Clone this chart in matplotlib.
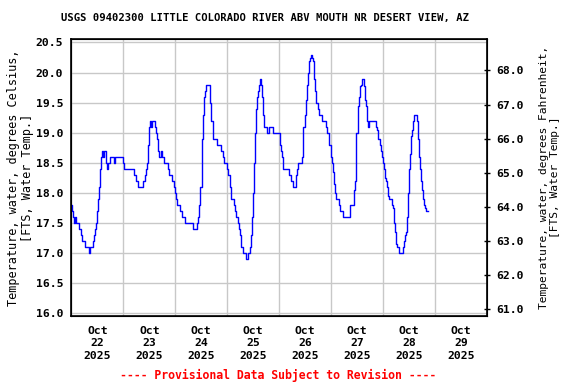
import matplotlib
matplotlib.use("Agg")
import matplotlib.pyplot as plt
import matplotlib.dates as mdates
import pandas as pd

""" data: hours since 2025-10-22 00:00 and water temperature (deg C) """
start = "2025-10-22 00:00"
hours = [0, 0.3, 0.8, 1.2, 1.5, 2.0, 3.1, 3.5, 4.2, 5.1, 6.3, 7.8, 8.2, 8.5, 9.5, 10.0, 10.5, 10.9,
         11.4, 11.8, 12.5, 12.9, 13.4, 13.8, 14.3, 14.8, 15.2, 15.7, 16.2, 16.6, 17.1, 17.7, 18.8,
         19.7, 20.2, 23.5, 23.8, 24.5, 28.2, 28.8, 29.7, 30.9, 32.8, 33.1, 33.8, 34.3, 34.9, 35.4,
         35.8, 36.5, 36.9, 37.4, 38.5, 39.1, 39.5, 40.2, 40.6, 41.1, 41.5, 42.0, 42.6, 44.2, 44.6,
         45.1, 46.0, 46.6, 47.2, 47.8, 48.3, 48.8, 49.4, 50.0, 50.8, 51.2, 51.8, 52.5, 55.8, 56.2,
         57.7, 58.0, 58.6, 58.9, 59.5, 60.2, 60.5, 60.9, 61.4, 61.8, 62.3, 63.5, 64.0, 64.6, 65.4,
         66.9, 67.4, 68.8, 69.2, 70.0, 70.5, 71.5, 72.0, 72.5, 73.1, 73.5, 74.6, 75.1, 75.7, 76.2,
         76.8, 77.2, 77.7, 78.2, 79.2, 80.5, 80.8, 81.7, 82.3, 82.8, 83.2, 83.7, 84.2, 84.6, 85.2,
         85.7, 86.2, 86.6, 87.1, 87.5, 88.0, 88.5, 88.9, 89.7, 90.2, 91.1, 91.5, 92.8, 93.2, 96.2,
         96.5, 96.9, 97.4, 97.8, 100.0, 100.5, 101.4, 102.3, 103.4, 103.8, 104.3, 104.9, 106.3,
         106.9, 107.2, 107.8, 108.3, 108.8, 109.2, 109.7, 110.2, 110.6, 111.1, 111.5, 112.0, 112.5,
         112.9, 113.8, 114.3, 115.4, 115.8, 116.9, 117.4, 118.2, 118.8, 119.2, 119.7, 120.2, 120.8,
         121.2, 121.7, 122.2, 123.1, 123.5, 124.0, 124.8, 125.4, 127.8, 128.5, 128.9, 130.0, 130.5,
         130.9, 131.4, 131.7, 132.3, 132.8, 133.2, 133.7, 134.2, 134.6, 135.1, 135.5, 136.0, 136.5,
         136.9, 137.4, 140.2, 140.6, 141.1, 141.5, 142.0, 142.5, 142.9, 143.4, 143.8, 144.3, 144.8,
         145.2, 145.7, 146.2, 146.6, 147.5, 148.0, 148.5, 148.9, 149.4, 149.8, 150.3, 150.8, 151.2,
         151.5, 153.1, 153.4, 153.8, 154.3, 154.8, 155.1, 155.5, 156.0, 156.5, 156.9, 157.4, 157.8,
         158.3, 159.2, 159.7, 160.2, 160.6, 161.1, 161.5, 162.0, 162.5, 162.9, 163.4, 163.8, 164.6]
temps = [17.8, 17.7, 17.6, 17.5, 17.6, 17.5, 17.5, 17.4, 17.3, 17.2, 17.1, 17.1, 17.0, 17.1, 17.1,
         17.2, 17.3, 17.4, 17.5, 17.7, 17.9, 18.1, 18.4, 18.6, 18.7, 18.6, 18.7, 18.7, 18.5, 18.4,
         18.5, 18.6, 18.6, 18.5, 18.6, 18.6, 18.5, 18.4, 18.4, 18.3, 18.2, 18.1, 18.1, 18.2, 18.3,
         18.4, 18.5, 18.8, 19.1, 19.2, 19.1, 19.2, 19.1, 19.0, 18.9, 18.7, 18.6, 18.6, 18.7, 18.6,
         18.5, 18.5, 18.4, 18.3, 18.3, 18.2, 18.1, 18.0, 17.9, 17.8, 17.8, 17.7, 17.7, 17.6, 17.6,
         17.5, 17.5, 17.4, 17.4, 17.5, 17.6, 17.8, 18.1, 18.5, 18.9, 19.3, 19.6, 19.7, 19.8, 19.8,
         19.5, 19.2, 18.9, 18.9, 18.8, 18.8, 18.7, 18.6, 18.5, 18.5, 18.4, 18.3, 18.1, 17.9, 17.9,
         17.8, 17.7, 17.6, 17.5, 17.4, 17.3, 17.1, 17.0, 17.0, 16.9, 17.0, 17.1, 17.3, 17.6, 18.0,
         18.5, 19.0, 19.4, 19.6, 19.7, 19.8, 19.9, 19.8, 19.6, 19.3, 19.1, 19.1, 19.0, 19.0, 19.1,
         19.1, 19.0, 19.0, 18.8, 18.7, 18.6, 18.4, 18.4, 18.3, 18.2, 18.1, 18.1, 18.3, 18.4, 18.5,
         18.6, 18.8, 19.1, 19.3, 19.55, 19.8, 20.0, 20.2, 20.25, 20.3, 20.25, 20.2, 19.9, 19.7,
         19.5, 19.4, 19.3, 19.3, 19.2, 19.2, 19.1, 19.0, 18.9, 18.8, 18.6, 18.5, 18.35, 18.15, 18.0,
         17.9, 17.9, 17.8, 17.7, 17.7, 17.6, 17.6, 17.7, 17.8, 17.8, 18.05, 18.2, 18.6, 19.0, 19.45,
         19.6, 19.77, 19.8, 19.9, 19.9, 19.77, 19.55, 19.45, 19.2, 19.1, 19.2, 19.2, 19.1, 19.05,
         18.9, 18.9, 18.8, 18.7, 18.6, 18.5, 18.4, 18.25, 18.2, 18.1, 17.95, 17.9, 17.9, 17.8,
         17.75, 17.5, 17.35, 17.15, 17.1, 17.1, 17.06, 17.0, 17.0, 17.1, 17.2, 17.3, 17.35, 17.6,
         18.0, 18.4, 18.65, 18.95, 19.05, 19.2, 19.3, 19.3, 19.2, 18.9, 18.6, 18.4, 18.2, 18.05,
         17.9, 17.8, 17.75, 17.7, 17.7]

celsius_ticks = [16.0, 16.5, 17.0, 17.5, 18.0, 18.5, 19.0, 19.5, 20.0, 20.5]
fahrenheit_ticks = [61.0, 62.0, 63.0, 64.0, 65.0, 66.0, 67.0, 68.0]

title = "USGS 09402300 LITTLE COLORADO RIVER ABV MOUTH NR DESERT VIEW, AZ"
left_label = "Temperature, water, degrees Celsius,\n[FTS, Water Temp.]"
right_label = "Temperature, water, degrees Fahrenheit,\n[FTS, Water Temp.]"
footer = "---- Provisional Data Subject to Revision ----"

plt.rcParams["font.family"] = "DejaVu Sans Mono"
plt.rcParams["font.weight"] = "bold"

times = pd.Timestamp(start) + pd.to_timedelta(hours, unit="h")

fig = plt.figure(figsize=(5.76, 3.84), dpi=100)
ax = fig.add_axes([0.124, 0.177, 0.7215, 0.721])
ax.plot(times, temps, color="#0000ff", lw=1.0, drawstyle="steps-post", zorder=3)

ax.set_xlim(pd.Timestamp("2025-10-22"), pd.Timestamp("2025-10-30"))
ax.set_ylim(15.955, 20.555)
ax.set_yticks(celsius_ticks)
ax.set_yticklabels([f"{v:.1f}" for v in celsius_ticks], fontsize=8.2)
ax.tick_params(axis="y", length=0, pad=6)

# gridlines at midnight, labels at noon
ax.xaxis.set_major_locator(mdates.DayLocator())
ax.xaxis.set_major_formatter(plt.NullFormatter())
ax.xaxis.set_minor_locator(mdates.HourLocator(byhour=[12]))
ax.xaxis.set_minor_formatter(mdates.DateFormatter("%b\n%d\n%Y"))
ax.tick_params(axis="x", which="both", length=0)
ax.tick_params(axis="x", which="minor", labelsize=8.2, pad=7)
for lab in ax.xaxis.get_minorticklabels():
    lab.set_linespacing(1.3)
ax.grid(True, which="major", color="#c8c8c8", lw=1.0)
ax.set_axisbelow(True)
for s in ax.spines.values():
    s.set_linewidth(1.2)

ax.set_ylabel(left_label, fontsize=8.5, labelpad=1, linespacing=1.15)

ax2 = ax.twinx()
ax2.set_ylim(60.786, 68.92)
ax2.set_yticks(fahrenheit_ticks)
ax2.set_yticklabels([f"{v:.1f}" for v in fahrenheit_ticks], fontsize=8.2)
ax2.tick_params(axis="y", direction="inout", length=5, width=1.0, pad=4)
ax2.set_ylabel(right_label, fontsize=8.1, labelpad=11, linespacing=1.15)

fig.text(0.46, 0.952, title, ha="center", va="center", fontsize=7.6)
fig.text(0.483, 0.022, footer, ha="center", va="center", fontsize=8.3, color="red")

fig.savefig("out.png", dpi=100)
plt.close()
